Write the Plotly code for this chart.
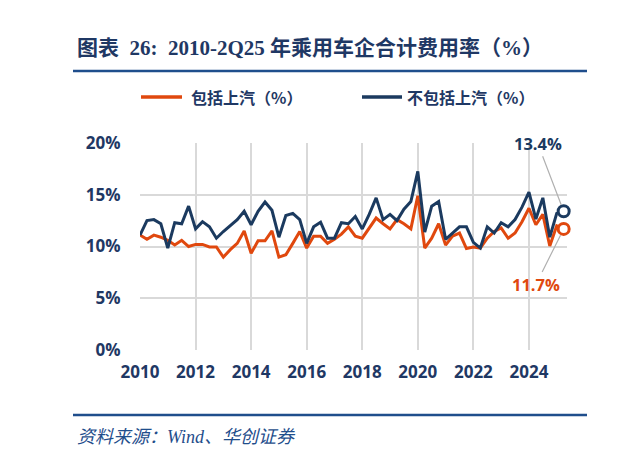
import plotly.graph_objects as go

quarters = ["2010Q1","2010Q2","2010Q3","2010Q4","2011Q1","2011Q2","2011Q3","2011Q4",
            "2012Q1","2012Q2","2012Q3","2012Q4","2013Q1","2013Q2","2013Q3","2013Q4",
            "2014Q1","2014Q2","2014Q3","2014Q4","2015Q1","2015Q2","2015Q3","2015Q4",
            "2016Q1","2016Q2","2016Q3","2016Q4","2017Q1","2017Q2","2017Q3","2017Q4",
            "2018Q1","2018Q2","2018Q3","2018Q4","2019Q1","2019Q2","2019Q3","2019Q4",
            "2020Q1","2020Q2","2020Q3","2020Q4","2021Q1","2021Q2","2021Q3","2021Q4",
            "2022Q1","2022Q2","2022Q3","2022Q4","2023Q1","2023Q2","2023Q3","2023Q4",
            "2024Q1","2024Q2","2024Q3","2024Q4","2025Q1","2025Q2"]

incl_saic = [11.1,10.7,11.1,10.9,10.6,10.15,10.6,10.0,
             10.2,10.2,9.95,9.95,8.97,9.7,10.3,11.5,
             9.35,10.55,10.55,11.5,8.97,9.2,10.3,11.45,
             9.85,11.0,11.0,10.3,10.7,11.2,11.9,11.0,
             10.8,11.8,12.75,12.2,11.7,12.6,12.2,11.7,
             14.9,9.85,10.8,12.2,10.15,11.0,11.3,9.8,
             9.95,9.85,10.8,11.45,11.8,10.8,11.3,12.4,
             13.7,12.1,13.1,10.05,12.0,11.7]

excl_saic = [11.1,12.5,12.6,12.2,9.85,12.3,12.2,13.9,
             11.7,12.4,11.9,10.8,11.45,12.0,12.6,13.4,
             12.1,13.4,14.3,13.5,10.9,13.0,13.2,12.6,
             10.3,11.9,12.35,10.8,10.8,12.3,12.2,12.9,
             11.7,13.1,14.7,12.6,13.1,12.5,13.6,14.35,
             17.25,11.4,13.9,14.35,10.7,11.3,11.9,11.9,
             10.4,9.85,11.9,11.3,12.3,11.9,12.6,13.8,
             15.25,12.65,14.7,10.9,13.2,13.4]

series_names = ["包括上汽（%）", "不包括上汽（%）"]
last_labels = ["11.7%", "13.4%"]
x_ticks = [2010, 2012, 2014, 2016, 2018, 2020, 2022, 2024]
y_ticks = [0, 5, 10, 15, 20]

ORANGE = "#E0480E"
NAVY = "#1B3A5F"
TXT = "#1F3864"
RULE = "#1F4E8C"

xs = [int(q[:4]) + (int(q[-1]) - 1) / 4 for q in quarters]

# page offset (browser body margin) and plot area in reference pixels
OFF = 8
W, H = 620 - OFF, 457 - OFF
L, R, T, B = 140 - OFF, 567 - OFF, 143 - OFF, 350 - OFF
def px(x):
    return (x - OFF - L) / (R - L)
def py(y):
    return (B - (y - OFF)) / (B - T)

fig = go.Figure()
fig.add_trace(go.Scatter(x=xs, y=incl_saic, name=series_names[0], mode="lines",
                         line=dict(color=ORANGE, width=3), cliponaxis=False))
fig.add_trace(go.Scatter(x=xs, y=excl_saic, name=series_names[1], mode="lines",
                         line=dict(color=NAVY, width=3), cliponaxis=False))
fig.add_trace(go.Scatter(x=[xs[-1]], y=[incl_saic[-1]], mode="markers", showlegend=False,
                         marker=dict(size=11, color="white", line=dict(color=ORANGE, width=3)),
                         cliponaxis=False))
fig.add_trace(go.Scatter(x=[xs[-1]], y=[excl_saic[-1]], mode="markers", showlegend=False,
                         marker=dict(size=11, color="white", line=dict(color=NAVY, width=3)),
                         cliponaxis=False))

tickfont = dict(family="Open Sans, Noto Sans CJK SC", size=17, color=TXT, weight="bold")

fig.update_layout(
    width=W, height=H,
    margin=dict(l=L, r=W - R, t=T, b=H - B, pad=0),
    paper_bgcolor="white", plot_bgcolor="white",
    showlegend=False,
    xaxis=dict(range=[2010, 2025.37], tickvals=x_ticks, ticktext=[str(v) for v in x_ticks],
               showgrid=True, gridcolor="#D9D9D9", gridwidth=1.5, zeroline=False,
               showline=False, tickfont=tickfont, ticks="outside", ticklen=7,
               tickcolor="rgba(0,0,0,0)"),
    yaxis=dict(range=[0, 20], tickvals=y_ticks, ticktext=[f"{v}%" for v in y_ticks],
               showgrid=True, gridcolor="#D9D9D9", gridwidth=1.5, zeroline=False,
               showline=False, tickfont=tickfont, ticks="outside", ticklen=15,
               tickcolor="rgba(0,0,0,0)"),
)

legfont = dict(family="Noto Sans CJK SC", size=16, color=TXT, weight="bold")
anns = [
    dict(text="图表  26:  2010-2Q25 年乘用车企合计费用率（%）", x=px(75), y=py(48),
         xanchor="left", yanchor="middle", showarrow=False,
         font=dict(family="Liberation Serif, Noto Sans CJK SC", size=21, color=TXT, weight="bold")),
    dict(text=series_names[0], x=px(189), y=py(97), xanchor="left", yanchor="middle",
         showarrow=False, font=legfont),
    dict(text=series_names[1], x=px(405), y=py(97), xanchor="left", yanchor="middle",
         showarrow=False, font=legfont),
    dict(text="资料来源：Wind、华创证券", x=px(75), y=py(437), xanchor="left", yanchor="middle",
         showarrow=False,
         font=dict(family="Liberation Serif, Noto Sans CJK SC", size=18, color=RULE, style="italic")),
    dict(text=last_labels[1], x=xs[-1], y=excl_saic[-1], xref="x", yref="y",
         ax=-26, ay=-68, showarrow=True, arrowhead=0, arrowwidth=1.2, arrowcolor="#B0B0B0",
         standoff=7, font=dict(family="Open Sans", size=16.5, color=NAVY, weight="bold")),
    dict(text=last_labels[0], x=xs[-1], y=incl_saic[-1], xref="x", yref="y",
         ax=-28, ay=56, showarrow=True, arrowhead=0, arrowwidth=1.2, arrowcolor="#B0B0B0",
         standoff=7, font=dict(family="Open Sans", size=16.5, color=ORANGE, weight="bold")),
]
for a in anns:
    a.setdefault("xref", "paper")
    a.setdefault("yref", "paper")
    fig.add_annotation(**a)

# legend swatches
fig.add_shape(type="line", xref="paper", yref="paper", x0=px(141), x1=px(182),
              y0=py(97), y1=py(97), line=dict(color=ORANGE, width=3.5))
fig.add_shape(type="line", xref="paper", yref="paper", x0=px(362), x1=px(402),
              y0=py(97), y1=py(97), line=dict(color=NAVY, width=3.5))

# header / footer rules (plus the edge of the neighbouring chart)
for yy in (71, 415):
    fig.add_shape(type="line", xref="paper", yref="paper", x0=px(73), x1=px(587),
                  y0=py(yy), y1=py(yy), line=dict(color=RULE, width=2.5))
    fig.add_shape(type="line", xref="paper", yref="paper", x0=px(614), x1=px(625),
                  y0=py(yy), y1=py(yy), line=dict(color=RULE, width=2.5))

fig.write_html("out.html")
